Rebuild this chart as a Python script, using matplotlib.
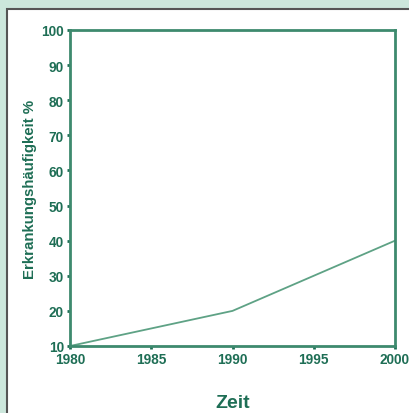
import matplotlib
matplotlib.use("Agg")
import matplotlib.pyplot as plt
from matplotlib.patches import Rectangle

years = [1980, 1985, 1990, 1995, 2000]
values = [10, 15, 20, 30, 40]
xticks = [1980, 1985, 1990, 1995, 2000]
yticks = [10, 20, 30, 40, 50, 60, 70, 80, 90, 100]

W, H = 410, 414
fig = plt.figure(figsize=(W/100, H/100), dpi=100)
fig.patch.set_facecolor("#cce7dc")

# white panel with dark border on top/left
bg = fig.add_axes([0, 0, 1, 1], zorder=-10)
bg.set_axis_off()
bg.set_xlim(0, 1)
bg.set_ylim(0, 1)
bg.add_patch(Rectangle((7.5/W, -0.1), 1.2, 1.1 - 10.5/H,
                       facecolor="white", edgecolor="#555555", linewidth=1.5))

green = "#1e6e55"
spine = "#3d8a6e"
linec = "#5ea285"

ax = fig.add_axes([70/W, 1 - 347/H, (395-70)/W, (347-31)/H])
ax.set_facecolor("white")
ax.plot(years, values, color=linec, linewidth=1.3)
ax.set_xlim(1980, 2000)
ax.set_ylim(10, 100)
ax.set_xticks(xticks)
ax.set_yticks(yticks)
for s in ax.spines.values():
    s.set_color(spine)
    s.set_linewidth(2)
ax.tick_params(axis="both", colors=green, length=2.5, width=2, direction="out",
               labelsize=9.8, pad=2)
for lbl in ax.get_xticklabels() + ax.get_yticklabels():
    lbl.set_fontfamily("Liberation Sans")
    lbl.set_fontweight("bold")
    lbl.set_color(green)
ax.set_ylabel("Erkrankungshäufigkeit %", fontsize=10.8, fontweight="bold",
              color=green, family="Liberation Sans", labelpad=3)
ax.set_xlabel("Zeit", fontsize=14, fontweight="bold", color=green,
              family="Liberation Sans", labelpad=20)

fig.savefig("out.png", dpi=100, facecolor=fig.get_facecolor())
